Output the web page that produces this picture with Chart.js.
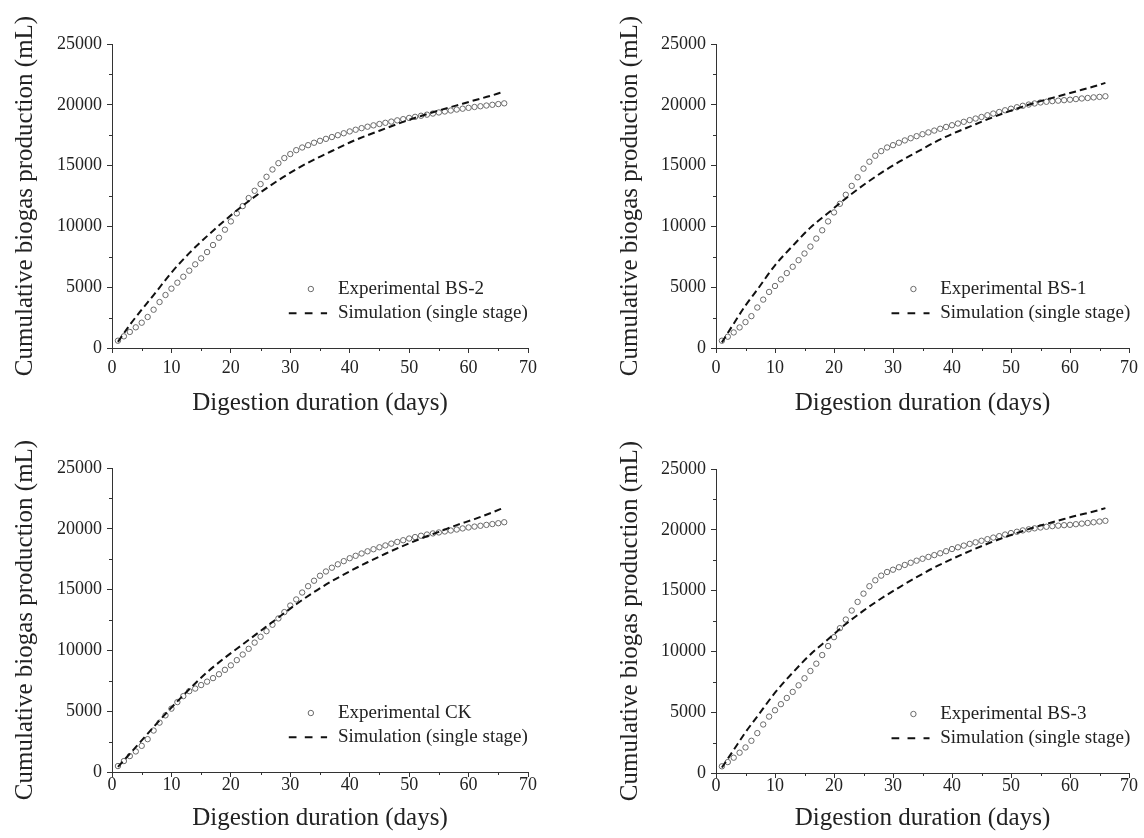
<!DOCTYPE html>
<html>
<head>
<meta charset="utf-8">
<script src="https://cdn.jsdelivr.net/npm/chart.js@4.4.1/dist/chart.umd.min.js"></script>
<style>
  body { margin: 0; background: #fff; }
  #wrap { position: relative; width: 1144px; height: 838px; overflow: hidden; }
  canvas { position: absolute; }
</style>
</head>
<body>
<div id="wrap">
  <canvas id="c1" width="572" height="419" style="left:0;top:0"></canvas>
  <canvas id="c2" width="572" height="419" style="left:572px;top:0"></canvas>
  <canvas id="c3" width="572" height="419" style="left:0;top:419px"></canvas>
  <canvas id="c4" width="572" height="419" style="left:572px;top:419px"></canvas>
</div>
<script>
// experimental days
var days = [1, 2, 3, 4, 5, 6, 7, 8, 9, 10, 11, 12, 13, 14, 15, 16, 17, 18, 19, 20,
  21, 22, 23, 24, 25, 26, 27, 28, 29, 30, 31, 32, 33, 34, 35, 36, 37, 38, 39, 40,
  41, 42, 43, 44, 45, 46, 47, 48, 49, 50, 51, 52, 53, 54, 55, 56, 57, 58, 59, 60,
  61, 62, 63, 64, 65, 66];

var expBS2 = [600, 960, 1320, 1700, 2080, 2550, 3150, 3780, 4360, 4880,
  5370, 5860, 6360, 6880, 7370, 7890, 8470, 9070, 9730, 10410,
  11070, 11670, 12330, 12930, 13480, 14080, 14680, 15200, 15620, 15950,
  16270, 16490, 16680, 16880, 17040, 17200, 17350, 17500, 17660, 17810,
  17950, 18080, 18200, 18310, 18420, 18520, 18620, 18720, 18820, 18920,
  19010, 19100, 19190, 19280, 19370, 19450, 19530, 19610, 19680, 19750,
  19820, 19880, 19940, 20000, 20060, 20120];

var expBS1 = [600, 930, 1280, 1690, 2130, 2620, 3330, 3980, 4610, 5100,
  5640, 6160, 6680, 7220, 7770, 8340, 9000, 9680, 10410, 11150,
  11860, 12600, 13330, 14040, 14750, 15320, 15810, 16190, 16490, 16680,
  16880, 17070, 17250, 17420, 17580, 17730, 17880, 18030, 18180, 18320,
  18460, 18600, 18740, 18870, 19000, 19140, 19280, 19410, 19550, 19680,
  19800, 19920, 20020, 20110, 20190, 20250, 20300, 20340, 20380, 20420,
  20470, 20520, 20560, 20610, 20650, 20700];

var expCK = [490, 900, 1310, 1690, 2150, 2700, 3410, 4060, 4660, 5210,
  5750, 6240, 6650, 6860, 7150, 7430, 7720, 8040, 8400, 8770,
  9200, 9660, 10130, 10640, 11120, 11580, 12110, 12630, 13150, 13690,
  14190, 14760, 15280, 15730, 16140, 16490, 16800, 17080, 17340, 17580,
  17780, 17970, 18150, 18320, 18480, 18630, 18780, 18920, 19060, 19200,
  19320, 19430, 19530, 19620, 19700, 19780, 19860, 19940, 20030, 20110,
  20180, 20250, 20320, 20390, 20460, 20540];

var expBS3 = [550, 900, 1260, 1670, 2100, 2650, 3280, 3990, 4640, 5160,
  5660, 6170, 6670, 7210, 7790, 8390, 8990, 9700, 10440, 11170,
  11910, 12620, 13360, 14070, 14750, 15360, 15850, 16230, 16530, 16720,
  16920, 17110, 17290, 17460, 17620, 17770, 17920, 18070, 18240, 18420,
  18560, 18700, 18840, 18970, 19100, 19230, 19360, 19480, 19610, 19730,
  19840, 19950, 20040, 20120, 20190, 20250, 20300, 20340, 20380, 20410,
  20460, 20510, 20560, 20620, 20680, 20740];

// simulation (single stage) curves, read at these days
var simDays = [1, 3, 5, 7, 10, 13, 16, 19, 22, 25, 28, 31, 34, 37, 40, 43, 46, 49, 52, 55, 58, 61, 64, 66];
var simBS2 = [500, 1900, 3150, 4350, 6200, 7800, 9200, 10500, 11700, 12800, 13800, 14700,
  15500, 16200, 16900, 17500, 18050, 18600, 19080, 19530, 19950, 20370, 20780, 21100];
var simBS1 = [460, 2000, 3500, 4800, 6800, 8400, 9900, 11100, 12300, 13400, 14400, 15300,
  16100, 16900, 17600, 18200, 18800, 19350, 19850, 20300, 20700, 21100, 21500, 21800];
var simCK = [420, 1500, 2600, 3700, 5300, 6800, 8200, 9400, 10500, 11600, 12700, 13800,
  14800, 15700, 16500, 17250, 17950, 18600, 19200, 19750, 20300, 20800, 21350, 21750];
var simBS3 = [450, 1900, 3350, 4650, 6600, 8250, 9750, 11000, 12250, 13350, 14350, 15250,
  16100, 16900, 17600, 18250, 18850, 19400, 19900, 20350, 20750, 21150, 21500, 21780];

var minorX = [5, 15, 25, 35, 45, 55, 65];
var minorY = [2500, 7500, 12500, 17500, 22500];

var serif = "'Liberation Serif', 'Times New Roman', serif";
var axisColor = '#333';
var textColor = '#222';
var pointColor = '#6a6a6a';

Chart.defaults.font.family = serif;
Chart.defaults.color = textColor;

// minor ticks + in-plot legend
var extras = {
  id: 'extras',
  afterDraw: function(chart) {
    var ctx = chart.ctx, xs = chart.scales.x, ys = chart.scales.y, a = chart.chartArea;
    var lg = chart.options.plugins.extras;
    ctx.save();
    ctx.strokeStyle = axisColor;
    ctx.lineWidth = 1;
    ctx.beginPath();
    minorX.forEach(function(v) {
      var px = Math.round(xs.getPixelForValue(v)) + 0.5;
      ctx.moveTo(px, a.bottom); ctx.lineTo(px, a.bottom + 3);
    });
    minorY.forEach(function(v) {
      var py = Math.round(ys.getPixelForValue(v)) + 0.5;
      ctx.moveTo(a.left, py); ctx.lineTo(a.left - 3, py);
    });
    ctx.stroke();

    var w = a.right - a.left, h = a.bottom - a.top;
    var row1 = a.bottom - 0.194 * h, row2 = a.bottom - 0.114 * h;
    ctx.beginPath();
    ctx.arc(a.left + 0.478 * w, row1, 2.7, 0, Math.PI * 2);
    ctx.strokeStyle = pointColor;
    ctx.stroke();
    ctx.beginPath();
    ctx.setLineDash([7.7, 8.3]);
    ctx.lineWidth = 2;
    ctx.strokeStyle = '#111';
    ctx.moveTo(a.left + 0.425 * w, row2);
    ctx.lineTo(a.left + 0.517 * w, row2);
    ctx.stroke();
    ctx.setLineDash([]);
    ctx.fillStyle = textColor;
    ctx.font = '19px ' + serif;
    ctx.textBaseline = 'middle';
    ctx.textAlign = 'left';
    ctx.fillText(lg.expLabel, a.left + 0.543 * w, row1);
    ctx.fillText('Simulation (single stage)', a.left + 0.543 * w, row2);
    ctx.restore();
  }
};

function makeChart(id, expY, simY, expLabel, lay) {
  new Chart(document.getElementById(id), {
    type: 'scatter',
    data: {
      datasets: [{
        label: 'Simulation (single stage)',
        data: simDays.map(function(d, i) { return {x: d, y: simY[i]}; }),
        showLine: true,
        borderColor: '#111',
        borderWidth: 2,
        borderDash: [7, 4],
        pointRadius: 0,
        cubicInterpolationMode: 'monotone',
        fill: false
      }, {
        label: expLabel,
        data: days.map(function(d, i) { return {x: d, y: expY[i]}; }),
        showLine: false,
        pointRadius: 2.7,
        pointBorderWidth: 1,
        pointBorderColor: pointColor,
        pointBackgroundColor: 'rgba(0,0,0,0)'
      }]
    },
    options: {
      responsive: false,
      animation: false,
      events: [],
      layout: { padding: { top: lay.top, right: lay.right, left: 0, bottom: 0 } },
      plugins: {
        legend: { display: false },
        tooltip: { enabled: false },
        extras: { expLabel: expLabel }
      },
      scales: {
        x: {
          type: 'linear',
          min: 0, max: 70,
          afterFit: function(s) { s.height = lay.xh; },
          ticks: { stepSize: 10, padding: lay.xtp, font: { size: 18 }, color: textColor, maxRotation: 0 },
          grid: { drawOnChartArea: false, tickLength: 5, color: axisColor },
          border: { color: axisColor, width: 1 },
          title: { display: true, text: 'Digestion duration (days)', font: { size: 25 }, color: textColor,
                   padding: { top: 0, bottom: lay.xtt } }
        },
        y: {
          min: 0, max: 25000,
          afterFit: function(s) { s.width = lay.left; },
          ticks: { stepSize: 5000, padding: 5, font: { size: 18 }, color: textColor,
                   callback: function(v) { return String(v); } },
          grid: { drawOnChartArea: false, tickLength: 5, color: axisColor },
          border: { color: axisColor, width: 1 },
          title: { display: true, text: 'Cumulative biogas production (mL)', font: { size: 25 }, color: textColor,
                   padding: { top: lay.ytt, bottom: 0 } }
        }
      }
    },
    plugins: [extras]
  });
}

makeChart('c1', expBS2, simBS2, 'Experimental BS-2', {top: 44, right: 44, left: 112, xh: 71, xtp: 4, xtt: 1, ytt: 10});
makeChart('c2', expBS1, simBS1, 'Experimental BS-1', {top: 44, right: 15, left: 144, xh: 71, xtp: 4, xtt: 1, ytt: 43});
makeChart('c3', expCK, simCK, 'Experimental CK', {top: 49, right: 44, left: 112, xh: 66, xtp: -3, xtt: 5, ytt: 10});
makeChart('c4', expBS3, simBS3, 'Experimental BS-3', {top: 50, right: 15, left: 144, xh: 65, xtp: -3, xtt: 5, ytt: 43});
</script>
</body>
</html>
